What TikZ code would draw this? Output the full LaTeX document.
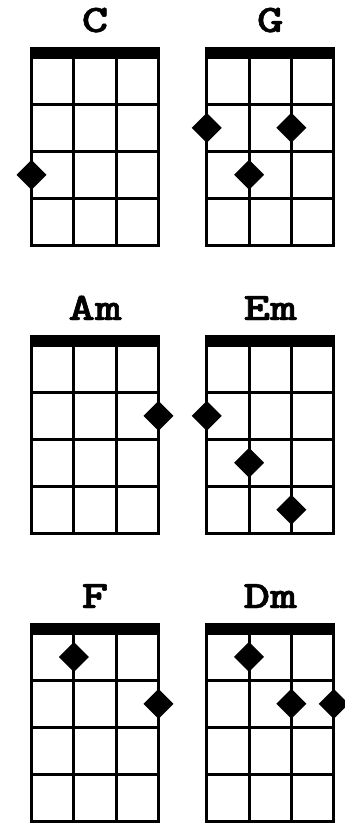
\documentclass[tikz,border=0pt]{standalone}
\usepackage{fontspec}
\newfontfamily\labelfont{lmmonolt10-bold.otf}[FakeBold=1.2]
\tikzset{
  grid line/.style={line width=3pt, line cap=rect},
  chordlabel/.style={font=\labelfont\fontsize{39}{39}\selectfont, anchor=base, inner sep=0pt, xscale=1.3},
  dot/.style={fill=black},
}
\newcommand{\chordchart}[4]{%
  % #1 x0, #2 bar top y, #3 name, #4 list of string/fret
  \begin{scope}[shift={(#1,#2)}]
    \fill (-1.5,0) rectangle (128.5,12);
    \foreach \i in {0,1,2,3} {
      \draw[grid line] (\i*42.33,10) -- (\i*42.33,198);
    }
    \foreach \j in {1,2,3,4} {
      \draw[grid line] (0,10.5+\j*46.9) -- (127,10.5+\j*46.9);
    }
    \node[chordlabel] (lbl#3) at (63.5,-15) {#3};
    \foreach \s/\f in {#4} {
      \fill[dot] ({(\s-1)*42.33},{10.5+(\f-0.5)*46.9-15}) -- ++(15,15) -- ++(-15,15) -- ++(-15,-15) -- cycle;
    }
  \end{scope}
}
\begin{document}
\begin{tikzpicture}[x=1pt,y=-1pt]
  \useasboundingbox[fill=white] (0,0) rectangle (345,823);
  \chordchart{31.5}{47}{C}{1/3}
  \chordchart{206.7}{47}{G}{1/2,3/2,2/3}
  \chordchart{31.5}{335}{Am}{4/2}
  \chordchart{206.7}{335}{Em}{1/2,2/3,3/4}
  \chordchart{31.5}{623}{F}{2/1,4/2}
  \chordchart{206.7}{623}{Dm}{2/1,3/2,4/2}
\end{tikzpicture}
\end{document}
